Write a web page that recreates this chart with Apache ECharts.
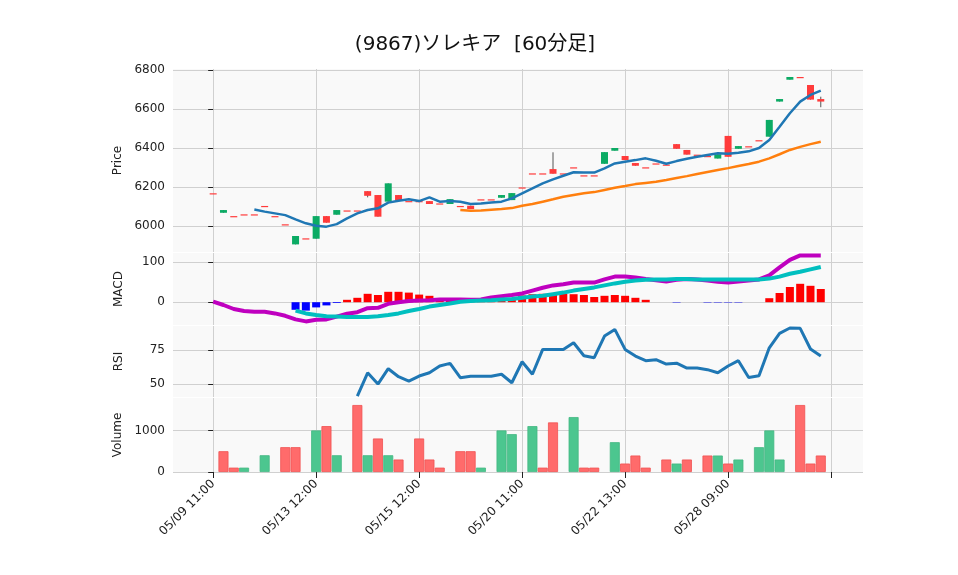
<!DOCTYPE html>
<html lang="ja">
<head>
<meta charset="UTF-8">
<title>(9867)ソレキア [60分足]</title>
<script src="https://cdn.jsdelivr.net/npm/echarts@6/dist/echarts.min.js"></script>
<style>
  html, body { margin: 0; padding: 0; background: #fff; }
  #chart { width: 958px; height: 575px; }
</style>
</head>
<body>
<div id="chart"></div>
<script>
// 60分足 60本 (index 0..59)
var tickLabels = ['05/09 11:00', '05/13 12:00', '05/15 12:00', '05/20 11:00', '05/22 13:00', '05/28 09:00'];
var tickIdx = [0, 10, 20, 30, 40, 50, 60];

// open, close, low, high
var opens  = [6168,6082,6051,6060,6060,6103,6051,6009,5949,5937,6051,6017,6082,6080,6080,6155,6048,6219,6133,6128,
              6128,6113,6116,6138,6103,6087,6137,6137,6159,6169,6198,6270,6270,6268,6270,6301,6260,6260,6379,6400,
              6338,6309,6301,6321,6315,6396,6366,6366,6359,6368,6355,6410,6409,6440,6544,6651,6764,6764,6648,6638];
var closes = [6168,6068,6051,6060,6060,6103,6051,6009,5906,5937,5935,6051,6058,6080,6080,6179,6159,6125,6159,6128,
              6128,6128,6116,6113,6103,6104,6137,6137,6145,6133,6198,6270,6270,6292,6270,6301,6260,6260,6319,6386,
              6359,6323,6301,6321,6315,6420,6390,6366,6359,6346,6462,6396,6409,6440,6458,6638,6750,6764,6723,6651];
var lows   = [6168,6068,6051,6060,6060,6103,6051,6009,5906,5937,5935,6017,6058,6080,6080,6147,6048,6125,6133,6128,
              6128,6113,6116,6113,6103,6087,6137,6137,6145,6133,6198,6270,6270,6268,6270,6301,6260,6260,6319,6386,
              6338,6309,6301,6321,6315,6396,6366,6366,6359,6346,6355,6396,6409,6440,6458,6638,6750,6764,6648,6609];
var highs  = [6168,6082,6051,6060,6060,6103,6051,6009,5949,5937,6051,6051,6082,6080,6080,6179,6159,6219,6159,6128,
              6128,6128,6116,6138,6103,6104,6137,6137,6159,6169,6198,6270,6270,6378,6270,6301,6260,6260,6379,6400,
              6359,6323,6301,6321,6315,6420,6390,6366,6359,6368,6462,6410,6409,6440,6544,6651,6764,6764,6723,6663];

var ma5 = [null,null,null,null,6085,6074,6065,6056,6034,6014,6002,5997,6010,6039,6065,6082,6091,6120,6130,6137,
           6128,6147,6125,6128,6125,6113,6116,6121,6125,6142,6168,6193,6219,6239,6258,6276,6274,6274,6296,6321,
           6330,6338,6347,6335,6319,6333,6345,6355,6364,6373,6370,6376,6383,6400,6441,6509,6578,6638,6672,6694];
var ma25 = [null,null,null,null,null,null,null,null,null,null,null,null,null,null,null,null,null,null,null,null,
            null,null,null,null,6082,6078,6080,6084,6087,6092,6104,6113,6125,6137,6150,6159,6168,6174,6185,6196,
            6205,6215,6221,6227,6236,6246,6256,6267,6277,6287,6297,6308,6318,6330,6347,6368,6390,6406,6420,6432];

var macd = [1.5,-7,-17,-22,-24,-24,-28,-34,-43,-48,-44,-43,-36,-29,-25,-15,-14,-4,0,3,
            4,5,7,7,7,6,7,12,15,18,22,29,36,42,45,49,49,49,57,64,
            64,62,58,55,52,56,58,57,54,51,49,52,54,57,67,87,106,117,117,117];
var signal = [null,null,null,null,null,null,null,null,-21,-28,-32,-35,-36,-37,-37,-37,-35,-32,-28,-22,
              -17,-11,-7,-3,1,3,4,5,7,8,11,14,16,20,24,29,33,37,42,47,
              51,54,56,57,57,58,58,57,57,57,57,57,57,57,59,64,71,76,82,88];
var hist = [null,null,null,null,null,null,null,null,-19,-21,-13,-8,-2,6,11,21,18,26,26,24,
            19,16,4,3,2,2,3,5,6,8,17,20,21,22,21,20,18,13,16,18,
            16,11,6,0,0,-1,0,0,-1,-1,-1,-1,0,0,10,23,38,46,41,33];

var rsi = [null,null,null,null,null,null,null,null,null,null,null,null,null,null,41.4,58.5,50.2,61.5,55.6,52.4,
           56.1,58.5,63.5,65.4,54.9,55.9,55.9,55.9,57.4,51.2,66.6,57.4,75.7,75.7,75.7,80.6,71.0,69.6,85.5,90.4,
           75.7,70.8,67.4,68.1,64.9,65.6,62.0,62.0,60.8,58.5,63.5,67.4,55.1,56.3,76.9,87.5,91.4,91.2,76.0,70.8];

var volume = [0,500,105,105,0,403,0,597,597,0,1000,1104,403,0,1611,403,806,403,300,0,
              806,300,105,0,500,500,105,0,1000,911,0,1104,105,1193,0,1321,105,105,0,717,
              203,396,105,0,300,203,300,0,396,396,203,300,0,597,1000,300,0,1611,203,396];
// 1 = 赤, 0 = 緑
var volUp = [0,1,1,0,0,0,0,1,1,0,0,1,0,0,1,0,1,0,1,0,
             1,1,1,0,1,1,0,0,0,0,0,0,1,1,0,0,1,1,0,0,
             1,1,1,0,1,0,1,0,1,0,1,0,0,0,0,0,0,1,1,1];

var UP = '#ff3b3b', DOWN = '#0bab64';
var VUP = '#ff6b6b', VDOWN = '#4cc68f';
var L = 173, W = 690;

var candleData = opens.map(function (o, i) { return [i, o, closes[i], lows[i], highs[i]]; });
var idx = function (arr) { return arr.map(function (v, i) { return [i, v]; }); };

function xAxisFor(gi, showLabel) {
  return {
    type: 'value', gridIndex: gi, min: -3.9, max: 63.1,
    axisLine: { show: false },
    axisTick: { show: showLabel, customValues: tickIdx, length: 6, lineStyle: { color: '#222' } },
    splitLine: { show: true, lineStyle: { color: '#d0d0d0' } },
    axisLabel: {
      show: showLabel, customValues: tickIdx.slice(0, 6), rotate: 45, color: '#222', fontSize: 12,
      fontFamily: 'DejaVu Sans', margin: 10,
      formatter: function (v) { var k = tickIdx.indexOf(Math.round(v)); return k >= 0 && k < tickLabels.length ? tickLabels[k] : ''; }
    }
  };
}
function yAxisFor(gi, name, min, max, vals) {
  return {
    type: 'value', gridIndex: gi, min: min, max: max, name: name,
    nameLocation: 'middle', nameGap: 48, nameRotate: 90,
    nameTextStyle: { color: '#222', fontSize: 12, fontFamily: 'DejaVu Sans' },
    axisLine: { show: false },
    axisTick: { show: true, customValues: vals, length: 5, lineStyle: { color: '#222' } },
    axisLabel: { customValues: vals, color: '#222', fontSize: 12, fontFamily: 'DejaVu Sans', margin: 8,
      formatter: function (v) { return String(v); } },
    splitLine: { show: true, lineStyle: { color: '#d0d0d0' } }
  };
}

var chart = echarts.init(document.getElementById('chart'));
chart.setOption({
  animation: false,
  backgroundColor: '#fff',
  title: {
    text: '(9867)ソレキア  [60分足]', left: 470, top: 30, textAlign: 'center',
    textStyle: { fontSize: 20, fontWeight: 'normal', color: '#111', fontFamily: 'DejaVu Sans, Noto Sans CJK JP' }
  },
  grid: [
    { left: L, width: W, top: 69, height: 183, show: true, backgroundColor: '#f9f9f9', borderWidth: 0 },
    { left: L, width: W, top: 253, height: 72, show: true, backgroundColor: '#f9f9f9', borderWidth: 0 },
    { left: L, width: W, top: 326, height: 71, show: true, backgroundColor: '#f9f9f9', borderWidth: 0 },
    { left: L, width: W, top: 398, height: 74, show: true, backgroundColor: '#f9f9f9', borderWidth: 0 }
  ],
  xAxis: [xAxisFor(0, false), xAxisFor(1, false), xAxisFor(2, false), xAxisFor(3, true)],
  yAxis: [
    yAxisFor(0, 'Price', 5867, 6805, [6000, 6200, 6400, 6600, 6800]),
    yAxisFor(1, 'MACD', -57, 123, [0, 100]),
    yAxisFor(2, 'RSI', 40.7, 92.9, [50, 75]),
    yAxisFor(3, 'Volume', 0, 1780, [0, 1000])
  ],
  series: [
    {
      type: 'custom', xAxisIndex: 0, yAxisIndex: 0, data: candleData, z: 3,
      renderItem: function (params, api) {
        var x = api.value(0), o = api.value(1), c = api.value(2), lo = api.value(3), hi = api.value(4);
        var col = c >= o ? UP : DOWN;
        var pTop = api.coord([x, Math.max(o, c)]), pBot = api.coord([x, Math.min(o, c)]);
        var pHi = api.coord([x, hi]), pLo = api.coord([x, lo]);
        var h = Math.max(pBot[1] - pTop[1], 1.2);
        return {
          type: 'group', children: [
            { type: 'line', shape: { x1: pHi[0], y1: pHi[1], x2: pLo[0], y2: pLo[1] }, style: { stroke: '#555', lineWidth: 1 } },
            { type: 'rect', shape: { x: pTop[0] - 3.5, y: pTop[1], width: 7, height: h }, style: { fill: col } }
          ]
        };
      }
    },
    { type: 'line', xAxisIndex: 0, yAxisIndex: 0, data: idx(ma5), showSymbol: false, lineStyle: { color: '#1f77b4', width: 2.5 }, z: 4 },
    { type: 'line', xAxisIndex: 0, yAxisIndex: 0, data: idx(ma25), showSymbol: false, lineStyle: { color: '#ff7f0e', width: 2.5 }, z: 4 },
    {
      type: 'bar', xAxisIndex: 1, yAxisIndex: 1, barWidth: 8,
      data: hist.map(function (v, i) {
        if (!v) return null;
        return { value: [i, v], itemStyle: { color: v >= 0 ? '#ff0000' : '#0000ff' } };
      })
    },
    { type: 'line', xAxisIndex: 1, yAxisIndex: 1, data: idx(macd), showSymbol: false, lineStyle: { color: '#bf00bf', width: 4 }, z: 4 },
    { type: 'line', xAxisIndex: 1, yAxisIndex: 1, data: idx(signal), showSymbol: false, lineStyle: { color: '#00bfbf', width: 4 }, z: 4 },
    { type: 'line', xAxisIndex: 2, yAxisIndex: 2, data: idx(rsi), showSymbol: false, lineStyle: { color: '#1f77b4', width: 3 } },
    {
      type: 'bar', xAxisIndex: 3, yAxisIndex: 3, barWidth: 10,
      data: volume.map(function (v, i) {
        if (!v) return null;
        return { value: [i, v], itemStyle: { color: volUp[i] ? VUP : VDOWN, borderColor: volUp[i] ? '#f05050' : '#44b883', borderWidth: 0.8 } };
      })
    }
  ]
});
</script>
</body>
</html>
